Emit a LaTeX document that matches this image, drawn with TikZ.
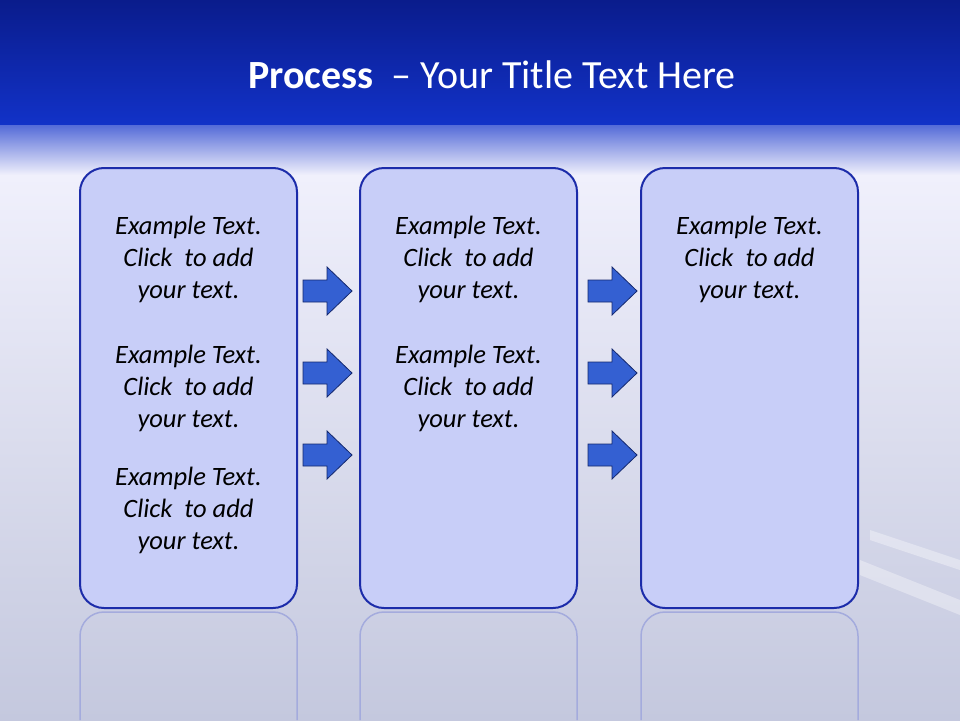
\documentclass[tikz,border=0pt]{standalone}
\usepackage{fontspec}
\setmainfont{Carlito}
\definecolor{boxfill}{RGB}{200,206,248}
\definecolor{boxline}{RGB}{28,44,170}
\definecolor{arrfill}{RGB}{52,96,210}
\definecolor{arrline}{RGB}{20,40,110}
\definecolor{topdark}{RGB}{10,28,140}
\definecolor{topmid}{RGB}{18,50,200}
\definecolor{bglight}{RGB}{240,240,252}
\definecolor{bglow}{RGB}{196,200,222}
\tikzset{
  stagebox/.style={draw=boxline, line width=2pt, fill=boxfill, rounded corners=24pt},
  refl/.style={draw=boxline!40, line width=1.5pt, rounded corners=24pt},
  parr/.style={draw=arrline, line width=0.8pt, fill=arrfill, line join=miter},
  txt/.style={font=\fontsize{26.5}{32}\selectfont\itshape, align=center, text=black},
}
\begin{document}
\begin{tikzpicture}[x=1pt,y=-1pt]
\useasboundingbox (0,0) rectangle (960,720);
% background
\shade[top color=topdark, bottom color=topmid] (0,0) rectangle (960,125);
\shade[top color=topmid!70!bglight, bottom color=bglight] (0,125) rectangle (960,175);
\shade[top color=bglight, bottom color=bglow] (0,175) rectangle (960,720);
\fill[white, opacity=0.35] (860,560) -- (960,600) -- (960,615) -- (860,575) -- cycle;
\fill[white, opacity=0.35] (870,530) -- (960,560) -- (960,570) -- (870,540) -- cycle;
% title
\node (title) at (492,75) {\fontsize{40}{46}\selectfont\color{white}\textbf{Process}\ \ – Your Title Text Here};
% reflections
\foreach \x in {80,360,641}{
  \draw[refl] (\x,720) -- (\x,612) -- (\x+217,612) -- (\x+217,720);
}
% boxes
\draw[stagebox] (80,168) rectangle (297,608) coordinate (b1);
\draw[stagebox] (360,168) rectangle (577,608) coordinate (b2);
\draw[stagebox] (641,168) rectangle (858,608) coordinate (b3);
% texts
\foreach \x/\n in {188.5/a,468.5/b,749.5/c}{
  \node[txt] (t\n1) at (\x,259) {Example Text.\\Click\ \ to add\\your text.};
}
\foreach \x/\n in {188.5/a,468.5/b}{
  \node[txt] (t\n2) at (\x,388) {Example Text.\\Click\ \ to add\\your text.};
}
\node[txt] (ta3) at (188.5,510) {Example Text.\\Click\ \ to add\\your text.};
% arrows
\foreach \y in {291,373,455}{
  \foreach \x in {303,588}{
    \draw[parr] (\x,\y-11) -- (\x+24,\y-11) -- (\x+24,\y-24) -- (\x+49,\y) -- (\x+24,\y+24) -- (\x+24,\y+11) -- (\x,\y+11) -- cycle;
  }
}
\end{tikzpicture}
\end{document}
